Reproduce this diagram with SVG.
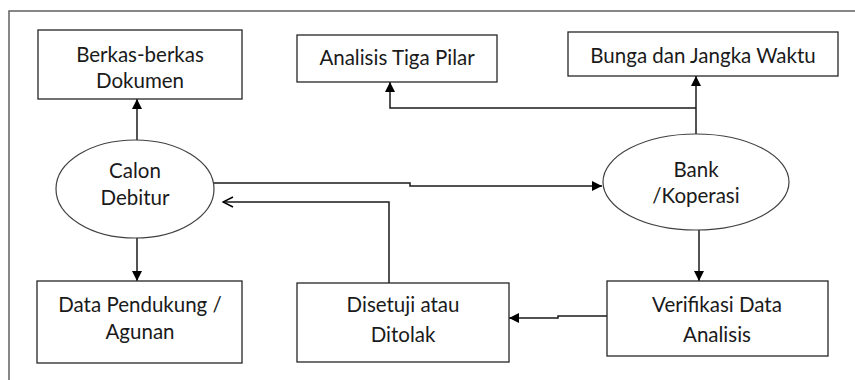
<svg xmlns="http://www.w3.org/2000/svg" width="855" height="380" viewBox="0 0 855 380">
<defs>
<style>
.box{fill:#fff;stroke:#262626;stroke-width:1.3}
.ell{fill:#fff;stroke:#404040;stroke-width:1.2}
.t{font-family:Lato,"Liberation Sans",sans-serif;font-size:20.5px;fill:#1a1a1a;text-anchor:middle}
.c{fill:none;stroke:#1a1a1a;stroke-width:1.5}
.frame{fill:none;stroke:#606060;stroke-width:1.5}
</style>
<marker id="ah" viewBox="0 0 10 10" refX="10" refY="5" markerWidth="10" markerHeight="10" markerUnits="userSpaceOnUse" orient="auto">
<path d="M0,0 L10,5 L0,10 Z" fill="#000"/>
</marker>
<marker id="oh" viewBox="0 0 12 12" refX="11" refY="6" markerWidth="12" markerHeight="12" markerUnits="userSpaceOnUse" orient="auto">
<path d="M1,1 L11,6 L1,11" fill="none" stroke="#000" stroke-width="1.5"/>
</marker>
</defs>
<rect width="855" height="380" fill="#fff"/>
<path class="frame" d="M9,380 V11 H855"/>

<g id="connectors">
<path class="c" d="M137,140 V99" marker-end="url(#ah)"/>
<path class="c" d="M137,237 V281" marker-end="url(#ah)"/>
<path class="c" d="M213,183 H410 V186 H602" marker-end="url(#ah)"/>
<path class="c" d="M696,134 V76" marker-end="url(#ah)"/>
<path class="c" d="M696,108 H390 V82" marker-end="url(#ah)"/>
<path class="c" d="M699,230 V281" marker-end="url(#ah)"/>
<path class="c" d="M607,316 H558 V318 H509" marker-end="url(#ah)"/>
<path class="c" d="M389,283 V202 H223" marker-end="url(#oh)"/>
</g>

<g id="berkas">
<rect class="box" x="38" y="30" width="204" height="69"/>
<text class="t" x="140" y="62">Berkas-berkas</text>
<text class="t" x="140" y="88">Dokumen</text>
</g>
<g id="analisis">
<rect class="box" x="297" y="35" width="200" height="47"/>
<text class="t" x="397" y="65">Analisis Tiga Pilar</text>
</g>
<g id="bunga">
<rect class="box" x="568" y="32" width="270" height="44"/>
<text class="t" x="703" y="63">Bunga dan Jangka Waktu</text>
</g>
<g id="calon">
<ellipse class="ell" cx="135" cy="189" rx="79" ry="49"/>
<text class="t" x="135" y="178">Calon</text>
<text class="t" x="135" y="205">Debitur</text>
</g>
<g id="bank">
<ellipse class="ell" cx="696" cy="182" rx="93" ry="48"/>
<text class="t" x="696" y="177">Bank</text>
<text class="t" x="696" y="203">/Koperasi</text>
</g>
<g id="data">
<rect class="box" x="37" y="281" width="205" height="82"/>
<text class="t" x="140" y="312">Data Pendukung /</text>
<text class="t" x="140" y="339">Agunan</text>
</g>
<g id="disetuji">
<rect class="box" x="297" y="283" width="212" height="79"/>
<text class="t" x="403" y="312">Disetuji atau</text>
<text class="t" x="403" y="342">Ditolak</text>
</g>
<g id="verifikasi">
<rect class="box" x="607" y="281" width="221" height="75"/>
<text class="t" x="717" y="312">Verifikasi Data</text>
<text class="t" x="717" y="342">Analisis</text>
</g>
</svg>
